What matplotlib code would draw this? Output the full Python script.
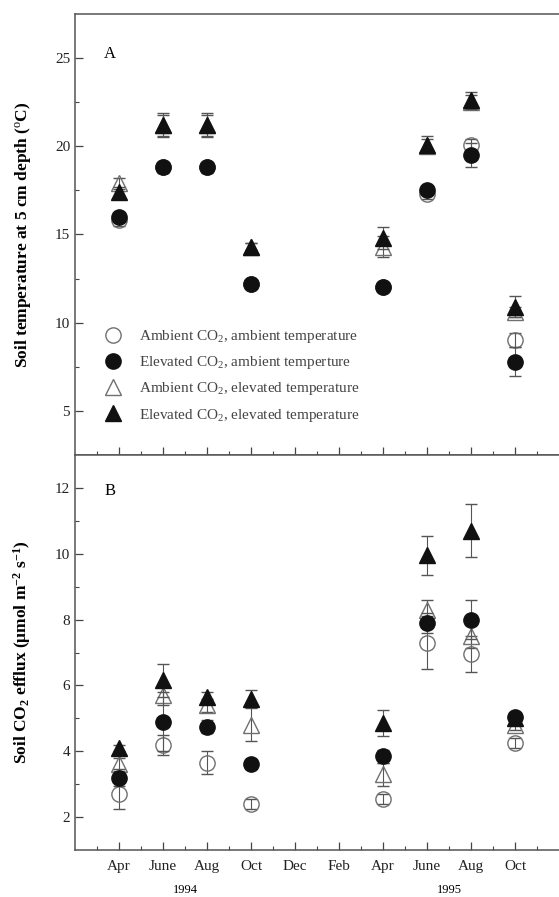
import numpy as np
import matplotlib
matplotlib.use("Agg")
import matplotlib.pyplot as plt
from matplotlib.lines import Line2D

plt.rcParams['font.family'] = ['Liberation Serif', 'DejaVu Serif']
plt.rcParams['mathtext.fontset'] = 'custom'
plt.rcParams['mathtext.rm'] = 'Liberation Serif'
plt.rcParams['mathtext.it'] = 'Liberation Serif:italic'
plt.rcParams['mathtext.bf'] = 'Liberation Serif:bold'

# month index: Apr 1994 = 0
months = [0, 2, 4, 6, 12, 14, 16, 18]
tick_pos = [0, 2, 4, 6, 8, 10, 12, 14, 16, 18]
tick_labels = ['Apr', 'June', 'Aug', 'Oct', 'Dec', 'Feb', 'Apr', 'June', 'Aug', 'Oct']

# panel A: soil temperature
temp_amb_amb = [15.8, 18.8, 18.8, 12.2, 12.0, 17.3, 20.1, 9.0]
temp_amb_amb_err = [0.3, 0.3, 0.3, 0.2, 0.2, 0.3, 0.3, 0.4]
temp_elv_amb = [16.0, 18.8, 18.8, 12.2, 12.0, 17.5, 19.5, 7.8]
temp_elv_amb_err = [0.3, 0.2, 0.2, 0.2, 0.2, 0.2, 0.7, 0.8]
temp_amb_elv = [17.9, 21.2, 21.2, 14.3, 14.3, 20.0, 22.5, 10.6]
temp_amb_elv_err = [0.3, 0.6, 0.6, 0.2, 0.6, 0.4, 0.4, 0.3]
temp_elv_elv = [17.4, 21.2, 21.2, 14.3, 14.8, 20.1, 22.6, 10.9]
temp_elv_elv_err = [0.3, 0.7, 0.7, 0.2, 0.6, 0.5, 0.5, 0.6]

# panel B: soil CO2 efflux
flux_amb_amb = [2.7, 4.2, 3.65, 2.4, 2.55, 7.3, 6.95, 4.25]
flux_amb_amb_err = [0.45, 0.3, 0.35, 0.15, 0.15, 0.8, 0.55, 0.15]
flux_elv_amb = [3.2, 4.9, 4.75, 3.6, 3.85, 7.9, 8.0, 5.05]
flux_elv_amb_err = [0.25, 0.9, 0.2, 0.15, 0.2, 0.3, 0.6, 0.1]
flux_amb_elv = [3.6, 5.7, 5.4, 4.8, 3.3, 8.3, 7.5, 4.8]
flux_amb_elv_err = [0.2, 0.3, 0.2, 0.5, 0.35, 0.3, 0.35, 0.15]
flux_elv_elv = [4.1, 6.15, 5.65, 5.6, 4.85, 9.95, 10.7, 5.0]
flux_elv_elv_err = [0.1, 0.5, 0.15, 0.25, 0.4, 0.6, 0.8, 0.1]

labels = ['Ambient CO$_2$, ambient temperature',
          'Elevated CO$_2$, ambient temperture',
          'Ambient CO$_2$, elevated temperature',
          'Elevated CO$_2$, elevated temperature']

W, H = 559, 897
fig = plt.figure(figsize=(W / 100, H / 100), dpi=100)
ax1 = fig.add_axes([75 / W, (H - 455) / H, (W - 75) / W, (455 - 14) / H])
ax2 = fig.add_axes([75 / W, (H - 850) / H, (W - 75) / W, (850 - 455) / H])

open_col = '#707070'
fill_col = '#111111'
err_col = '#555555'
ms = 11


def draw(ax, series):
    # open markers first, filled ones on top
    styles = [('o', 'none', open_col), ('^', 'none', open_col),
              ('o', fill_col, fill_col), ('^', fill_col, fill_col)]
    order = [0, 2, 1, 3]
    for k, (mk, fc, ec) in zip(order, styles):
        vals, errs = series[k]
        ax.errorbar(months, vals, yerr=errs, fmt=mk, ms=ms if mk == 'o' else ms + 1,
                    mfc=fc, mec=ec, mew=1.0, ecolor=err_col, elinewidth=0.8,
                    capsize=4, capthick=0.8, zorder=3 + (fc != 'none'))


draw(ax1, [(temp_amb_amb, temp_amb_amb_err), (temp_elv_amb, temp_elv_amb_err),
           (temp_amb_elv, temp_amb_elv_err), (temp_elv_elv, temp_elv_elv_err)])
draw(ax2, [(flux_amb_amb, flux_amb_amb_err), (flux_elv_amb, flux_elv_amb_err),
           (flux_amb_elv, flux_amb_elv_err), (flux_elv_elv, flux_elv_elv_err)])

for ax in (ax1, ax2):
    ax.set_xlim(-2, 20)
    ax.set_xticks(tick_pos)
    ax.set_xticks(np.arange(-1, 20, 2), minor=True)
    ax.tick_params(axis='both', which='both', direction='in', colors='#444444',
                   labelcolor='#222222', labelsize=11)
    ax.tick_params(which='major', length=6, width=0.9)
    ax.tick_params(which='minor', length=3, width=0.8)
    ax.spines['right'].set_visible(False)
    for s in ('left', 'top', 'bottom'):
        ax.spines[s].set_color('#555555')
        ax.spines[s].set_linewidth(1.1)
    ax.yaxis.set_label_coords(-0.087, 0.5)

ax1.set_ylim(2.5, 27.5)
ax1.set_yticks([5, 10, 15, 20, 25])
ax1.set_yticks([7.5, 12.5, 17.5, 22.5], minor=True)
ax1.set_xticklabels([])
ax1.text(0.06, 0.90, 'A', transform=ax1.transAxes, fontsize=12)
ax1.set_ylabel('Soil temperature at 5 cm depth ($^{\\mathrm{o}}$C)', fontsize=12.5,
               fontweight='bold')

ax2.set_ylim(1, 13)
ax2.set_yticks([2, 4, 6, 8, 10, 12])
ax2.set_yticks([3, 5, 7, 9, 11], minor=True)
ax2.set_xticklabels(tick_labels, fontsize=11)
ax2.tick_params(axis='x', pad=7)
ax2.text(0.06, 0.90, 'B', transform=ax2.transAxes, fontsize=12)
ax2.set_ylabel('Soil CO$_\\mathbf{2}$ efflux ($\\mathbf{\\mu}$mol m$^{\\mathbf{-2}}$ s$^{\\mathbf{-1}}$)',
               fontsize=12.5, fontweight='bold')
ax2.text(3, -0.087, '1994', transform=ax2.get_xaxis_transform(), ha='center', va='top',
         fontsize=9)
ax2.text(15, -0.087, '1995', transform=ax2.get_xaxis_transform(), ha='center', va='top',
         fontsize=9)

handles = [Line2D([], [], ls='none', marker='o', ms=ms, mfc='none', mec=open_col),
           Line2D([], [], ls='none', marker='o', ms=ms, mfc=fill_col, mec=fill_col),
           Line2D([], [], ls='none', marker='^', ms=ms + 1, mfc='none', mec=open_col),
           Line2D([], [], ls='none', marker='^', ms=ms + 1, mfc=fill_col, mec=fill_col)]
ax1.legend(handles, labels, loc='lower left', bbox_to_anchor=(0.032, 0.04), frameon=False,
           fontsize=11, labelspacing=0.6, handletextpad=1.1, handlelength=1.2,
           labelcolor='#444444')

fig.savefig('out.png', dpi=100)
